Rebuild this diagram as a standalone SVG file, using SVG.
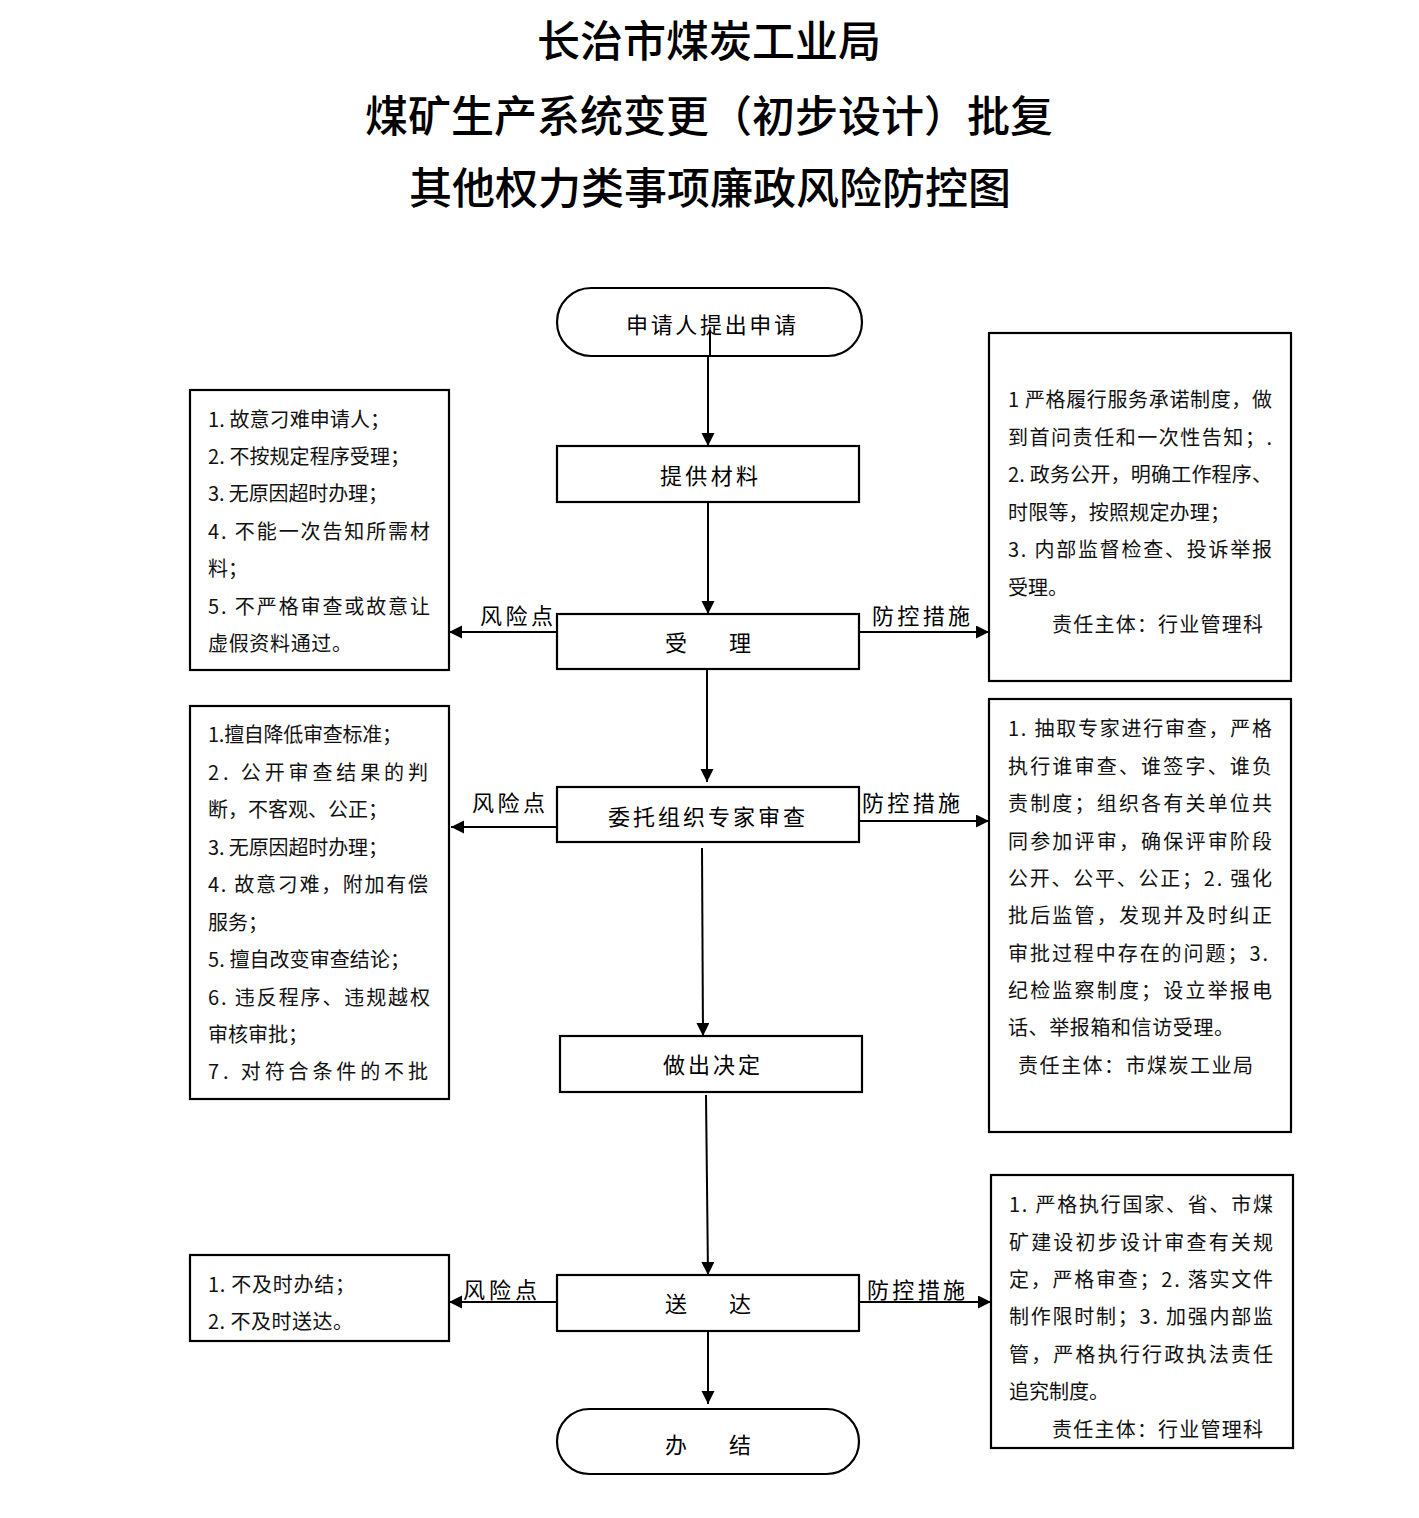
<svg xmlns="http://www.w3.org/2000/svg" width="1419" height="1518" viewBox="0 0 1419 1518">
<style>
text{font-family:"Noto Sans CJK SC","Noto Sans",sans-serif;fill:#000;dominant-baseline:central}
.title{font-size:43px;font-weight:500;text-anchor:middle}
.box{fill:#fff;stroke:#000;stroke-width:2.2}
.n{font-size:22px}
.s{font-size:20px;fill:#111}
.lbl{font-size:22px}
.c{fill:none;stroke:#000;stroke-width:2}
</style>
<defs>
<marker id="ah" markerUnits="userSpaceOnUse" markerWidth="14" markerHeight="14" refX="13" refY="6.5" orient="auto">
<path d="M0,0 L13,6.5 L0,13 z" fill="#000"/>
</marker>
</defs>
<rect width="1419" height="1518" fill="#fff"/>
<g id="title">
<text class="title" x="709" y="38">长治市煤炭工业局</text>
<text class="title" x="709" y="113">煤矿生产系统变更（初步设计）批复</text>
<text class="title" x="710" y="185">其他权力类事项廉政风险防控图</text>
</g>
<g id="start">
<rect class="box" x="557" y="288" width="305" height="68" rx="34" ry="34"/>
<text class="n" x="626" y="323" textLength="170" lengthAdjust="spacing">申请人提出申请</text>
</g>
<g id="materials">
<rect class="box" x="557" y="446" width="302" height="56"/>
<text class="n" x="660" y="474" textLength="98" lengthAdjust="spacing">提供材料</text>
</g>
<g id="accept">
<rect class="box" x="557" y="614" width="302" height="55"/>
<text class="n" x="665" y="641" textLength="86" lengthAdjust="spacing">受　　理</text>
</g>
<g id="review">
<rect class="box" x="557" y="787" width="302" height="55"/>
<text class="n" x="608" y="815" textLength="197" lengthAdjust="spacing">委托组织专家审查</text>
</g>
<g id="decide">
<rect class="box" x="560" y="1036" width="302" height="56"/>
<text class="n" x="663" y="1063" textLength="97" lengthAdjust="spacing">做出决定</text>
</g>
<g id="deliver">
<rect class="box" x="557" y="1275" width="302" height="56"/>
<text class="n" x="665" y="1302" textLength="86" lengthAdjust="spacing">送　　达</text>
</g>
<g id="end">
<rect class="box" x="557" y="1409" width="302" height="65" rx="32.5" ry="32.5"/>
<text class="n" x="665" y="1443" textLength="86" lengthAdjust="spacing">办　　结</text>
</g>
<g id="risk1">
<rect class="box" x="190" y="390" width="259" height="280"/>
<text class="s" x="208" y="418" textLength="182" lengthAdjust="spacing">1. 故意刁难申请人；</text>
<text class="s" x="208" y="455" textLength="202" lengthAdjust="spacing">2. 不按规定程序受理；</text>
<text class="s" x="208" y="492" textLength="180" lengthAdjust="spacing">3. 无原因超时办理；</text>
<text class="s" x="208" y="530" textLength="222" lengthAdjust="spacing">4. 不能一次告知所需材</text>
<text class="s" x="208" y="567">料；</text>
<text class="s" x="208" y="605" textLength="222" lengthAdjust="spacing">5. 不严格审查或故意让</text>
<text class="s" x="208" y="642" textLength="144" lengthAdjust="spacing">虚假资料通过。</text>
</g>
<g id="risk2">
<rect class="box" x="190" y="706" width="259" height="393"/>
<text class="s" x="208" y="733" textLength="194" lengthAdjust="spacing">1.擅自降低审查标准；</text>
<text class="s" x="208" y="771" textLength="220" lengthAdjust="spacing">2. 公开审查结果的判</text>
<text class="s" x="208" y="808" textLength="180" lengthAdjust="spacing">断，不客观、公正；</text>
<text class="s" x="208" y="846" textLength="180" lengthAdjust="spacing">3. 无原因超时办理；</text>
<text class="s" x="208" y="883" textLength="220" lengthAdjust="spacing">4. 故意刁难，附加有偿</text>
<text class="s" x="208" y="921">服务；</text>
<text class="s" x="208" y="958" textLength="202" lengthAdjust="spacing">5. 擅自改变审查结论；</text>
<text class="s" x="208" y="996" textLength="222" lengthAdjust="spacing">6. 违反程序、违规越权</text>
<text class="s" x="208" y="1033">审核审批；</text>
<text class="s" x="208" y="1070" textLength="220" lengthAdjust="spacing">7. 对符合条件的不批</text>
</g>
<g id="risk3">
<rect class="box" x="190" y="1255" width="259" height="86"/>
<text class="s" x="208" y="1283" textLength="147" lengthAdjust="spacing">1. 不及时办结；</text>
<text class="s" x="208" y="1320" textLength="145" lengthAdjust="spacing">2. 不及时送达。</text>
</g>
<g id="ctrl1">
<rect class="box" x="989" y="333" width="302" height="348"/>
<text class="s" x="1008" y="398" textLength="264" lengthAdjust="spacing">1 严格履行服务承诺制度，做</text>
<text class="s" x="1008" y="436" textLength="264" lengthAdjust="spacing">到首问责任和一次性告知；.</text>
<text class="s" x="1008" y="473" textLength="264" lengthAdjust="spacing">2. 政务公开，明确工作程序、</text>
<text class="s" x="1008" y="511" textLength="222" lengthAdjust="spacing">时限等，按照规定办理；</text>
<text class="s" x="1008" y="548" textLength="264" lengthAdjust="spacing">3. 内部监督检查、投诉举报</text>
<text class="s" x="1008" y="586">受理。</text>
<text class="s" x="1052" y="623" textLength="211" lengthAdjust="spacing">责任主体：行业管理科</text>
</g>
<g id="ctrl2">
<rect class="box" x="989" y="699" width="302" height="433"/>
<text class="s" x="1008" y="727" textLength="264" lengthAdjust="spacing">1. 抽取专家进行审查，严格</text>
<text class="s" x="1008" y="765" textLength="264" lengthAdjust="spacing">执行谁审查、谁签字、谁负</text>
<text class="s" x="1008" y="802" textLength="264" lengthAdjust="spacing">责制度；组织各有关单位共</text>
<text class="s" x="1008" y="840" textLength="264" lengthAdjust="spacing">同参加评审，确保评审阶段</text>
<text class="s" x="1008" y="877" textLength="264" lengthAdjust="spacing">公开、公平、公正；2. 强化</text>
<text class="s" x="1008" y="914" textLength="264" lengthAdjust="spacing">批后监管，发现并及时纠正</text>
<text class="s" x="1008" y="952" textLength="260" lengthAdjust="spacing">审批过程中存在的问题；3.</text>
<text class="s" x="1008" y="989" textLength="264" lengthAdjust="spacing">纪检监察制度；设立举报电</text>
<text class="s" x="1008" y="1026" textLength="226" lengthAdjust="spacing">话、举报箱和信访受理。</text>
<text class="s" x="1018" y="1064" textLength="235" lengthAdjust="spacing">责任主体：市煤炭工业局</text>
</g>
<g id="ctrl3">
<rect class="box" x="991" y="1175" width="302" height="273"/>
<text class="s" x="1009" y="1203" textLength="264" lengthAdjust="spacing">1. 严格执行国家、省、市煤</text>
<text class="s" x="1009" y="1241" textLength="264" lengthAdjust="spacing">矿建设初步设计审查有关规</text>
<text class="s" x="1009" y="1278" textLength="264" lengthAdjust="spacing">定，严格审查；2. 落实文件</text>
<text class="s" x="1009" y="1315" textLength="264" lengthAdjust="spacing">制作限时制；3. 加强内部监</text>
<text class="s" x="1009" y="1353" textLength="264" lengthAdjust="spacing">管，严格执行行政执法责任</text>
<text class="s" x="1009" y="1390">追究制度。</text>
<text class="s" x="1052" y="1428" textLength="211" lengthAdjust="spacing">责任主体：行业管理科</text>
</g>
<g id="connectors">
<path class="c" d="M710,330 V356"/>
<path class="c" d="M708,356 V446" marker-end="url(#ah)"/>
<path class="c" d="M708,502 V614" marker-end="url(#ah)"/>
<path class="c" d="M707,670 V782" marker-end="url(#ah)"/>
<path class="c" d="M702,848 L703,1036" marker-end="url(#ah)"/>
<path class="c" d="M706,1095 L708,1275" marker-end="url(#ah)"/>
<path class="c" d="M708,1331 V1404" marker-end="url(#ah)"/>
<path class="c" d="M557,632 H449" marker-end="url(#ah)"/>
<path class="c" d="M859,632 H989" marker-end="url(#ah)"/>
<path class="c" d="M557,827 H451" marker-end="url(#ah)"/>
<path class="c" d="M859,821 H989" marker-end="url(#ah)"/>
<path class="c" d="M557,1302 H449" marker-end="url(#ah)"/>
<path class="c" d="M859,1302 H991" marker-end="url(#ah)"/>
<text class="lbl" x="480" y="614" textLength="73" lengthAdjust="spacing">风险点</text>
<text class="lbl" x="872" y="614" textLength="98" lengthAdjust="spacing">防控措施</text>
<text class="lbl" x="472" y="801" textLength="73" lengthAdjust="spacing">风险点</text>
<text class="lbl" x="862" y="801" textLength="98" lengthAdjust="spacing">防控措施</text>
<text class="lbl" x="463" y="1288" textLength="74" lengthAdjust="spacing">风险点</text>
<text class="lbl" x="867" y="1288" textLength="98" lengthAdjust="spacing">防控措施</text>
</g>
</svg>
